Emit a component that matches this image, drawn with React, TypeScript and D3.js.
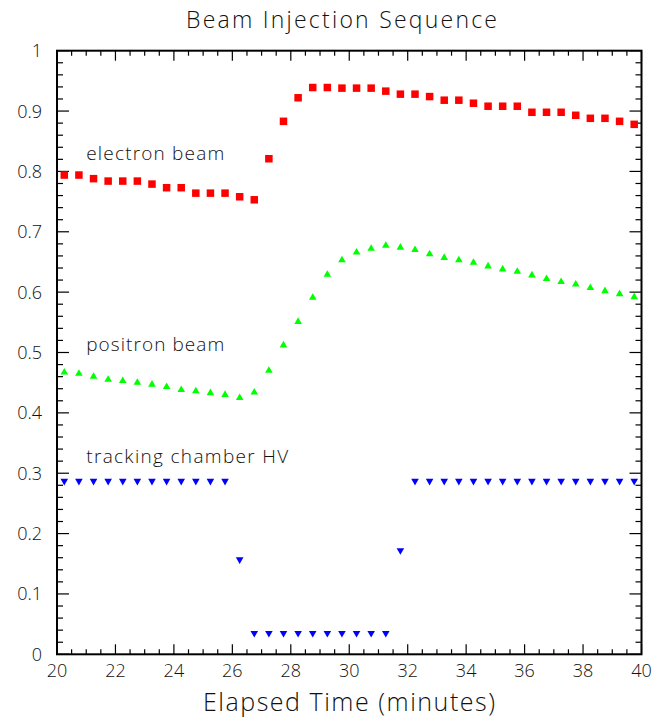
import React from "react";
import * as d3 from "d3";

const times: number[] = [
  20.25, 20.75, 21.25, 21.75, 22.25, 22.75, 23.25, 23.75, 24.25, 24.75,
  25.25, 25.75, 26.25, 26.75, 27.25, 27.75, 28.25, 28.75, 29.25, 29.75,
  30.25, 30.75, 31.25, 31.75, 32.25, 32.75, 33.25, 33.75, 34.25, 34.75,
  35.25, 35.75, 36.25, 36.75, 37.25, 37.75, 38.25, 38.75, 39.25, 39.75,
];

const electronBeam: number[] = [
  0.794, 0.794, 0.788, 0.784, 0.784, 0.784, 0.779, 0.773, 0.773, 0.764,
  0.764, 0.764, 0.758, 0.753, 0.821, 0.883, 0.922, 0.939, 0.939, 0.938,
  0.938, 0.938, 0.933, 0.928, 0.928, 0.924, 0.918, 0.918, 0.913, 0.908,
  0.908, 0.908, 0.898, 0.898, 0.898, 0.893, 0.888, 0.888, 0.883, 0.878,
];

const positronBeam: number[] = [
  0.467, 0.465, 0.460, 0.455, 0.453, 0.450, 0.447, 0.443, 0.438, 0.436,
  0.433, 0.430, 0.425, 0.434, 0.470, 0.512, 0.551, 0.591, 0.629, 0.653,
  0.666, 0.672, 0.677, 0.674, 0.670, 0.663, 0.657, 0.653, 0.649, 0.643,
  0.638, 0.634, 0.628, 0.622, 0.617, 0.613, 0.607, 0.602, 0.597, 0.592,
];

const trackingHV: number[] = [
  0.287, 0.287, 0.287, 0.287, 0.287, 0.287, 0.287, 0.287, 0.287, 0.287,
  0.287, 0.287, 0.157, 0.035, 0.035, 0.035, 0.035, 0.035, 0.035, 0.035,
  0.035, 0.035, 0.035, 0.172, 0.287, 0.287, 0.287, 0.287, 0.287, 0.287,
  0.287, 0.287, 0.287, 0.287, 0.287, 0.287, 0.287, 0.287, 0.287, 0.287,
];

const xTickLabels: number[] = [20, 22, 24, 26, 28, 30, 32, 34, 36, 38, 40];
const yTickLabels: number[] = [0, 0.1, 0.2, 0.3, 0.4, 0.5, 0.6, 0.7, 0.8, 0.9, 1];

const title = "Beam Injection Sequence";
const xTitle = "Elapsed Time (minutes)";
const seriesLabels = [
  { text: "electron beam", x: 21, y: 0.819, len: 138 },
  { text: "positron beam", x: 21, y: 0.502, len: 138 },
  { text: "tracking chamber HV", x: 21, y: 0.317, len: 202 },
];

const W = 653;
const H = 720;
const L = 57;
const R = 641.5;
const T = 50.7;
const B = 654.3;
const FONT = "'Open Sans', 'DejaVu Sans', sans-serif";

export default function App() {
  const x = d3.scaleLinear().domain([20, 40]).range([L, R]);
  const y = d3.scaleLinear().domain([0, 1]).range([B, T]);

  const xMinor = d3.range(20, 40.001, 0.5);
  const yMinor = d3.range(0, 1.0001, 0.02);
  const isXMajor = (v: number) => Math.abs(v / 2 - Math.round(v / 2)) < 1e-6;
  const isYMajor = (v: number) => Math.abs(v * 10 - Math.round(v * 10)) < 1e-6;

  const tri = d3.symbol().type(d3.symbolTriangle).size(25)() as string;
  const sq = 7.5;

  return (
    <svg
      width={W}
      height={H}
      style={{ position: "absolute", left: 0, top: 0, background: "#fff" }}
      fontFamily={FONT}
    >
      <rect x={0} y={0} width={W} height={H} fill="#fff" />
      {/* ticks */}
      <g stroke="#000" strokeWidth={1.2}>
        {xMinor.map((v, i) => {
          const len = isXMajor(v) ? 10 : 5;
          return (
            <g key={"xt" + i}>
              <line x1={x(v)} x2={x(v)} y1={B} y2={B - len} />
              <line x1={x(v)} x2={x(v)} y1={T} y2={T + len} />
            </g>
          );
        })}
        {yMinor.map((v, i) => {
          const len = isYMajor(v) ? 12 : 6;
          return (
            <g key={"yt" + i}>
              <line x1={L} x2={L + len} y1={y(v)} y2={y(v)} />
              <line x1={R} x2={R - len} y1={y(v)} y2={y(v)} />
            </g>
          );
        })}
      </g>
      <rect x={L} y={T} width={R - L} height={B - T} fill="none" stroke="#000" strokeWidth={2} />

      {/* tick labels */}
      <g fontSize={18} fill="#111" fontWeight={300}>
        {xTickLabels.map((v) => (
          <text key={"xl" + v} x={x(v)} y={B + 22.5} textAnchor="middle">
            {v}
          </text>
        ))}
        {yTickLabels.map((v) => (
          <text key={"yl" + v} x={L - 15} y={y(v) + 6.5} textAnchor="end">
            {String(v)}
          </text>
        ))}
      </g>

      {/* data */}
      <g fill="#ff0000">
        {times.map((t, i) => (
          <rect key={"e" + i} x={x(t) - sq / 2} y={y(electronBeam[i]) - sq / 2} width={sq} height={sq} />
        ))}
      </g>
      <g fill="#00ff00">
        {times.map((t, i) => (
          <path key={"p" + i} d={tri} transform={`translate(${x(t)},${y(positronBeam[i])})`} />
        ))}
      </g>
      <g fill="#0000ff">
        {times.map((t, i) => (
          <path key={"h" + i} d={tri} transform={`translate(${x(t)},${y(trackingHV[i])}) rotate(180)`} />
        ))}
      </g>

      {/* series labels */}
      <g fontSize={19} fill="#111" fontWeight={300}>
        {seriesLabels.map((s) => (
          <text
            key={s.text}
            x={x(s.x)}
            y={y(s.y)}
            textLength={s.len}
            lengthAdjust="spacing"
          >
            {s.text}
          </text>
        ))}
      </g>

      <text
        x={341.5}
        y={28}
        textAnchor="middle"
        fontSize={23}
        fill="#111"
        fontWeight={300}
        textLength={311}
        lengthAdjust="spacing"
      >
        {title}
      </text>
      <text
        x={349}
        y={711}
        textAnchor="middle"
        fontSize={25}
        fill="#111"
        fontWeight={300}
        textLength={292}
        lengthAdjust="spacing"
      >
        {xTitle}
      </text>
    </svg>
  );
}
